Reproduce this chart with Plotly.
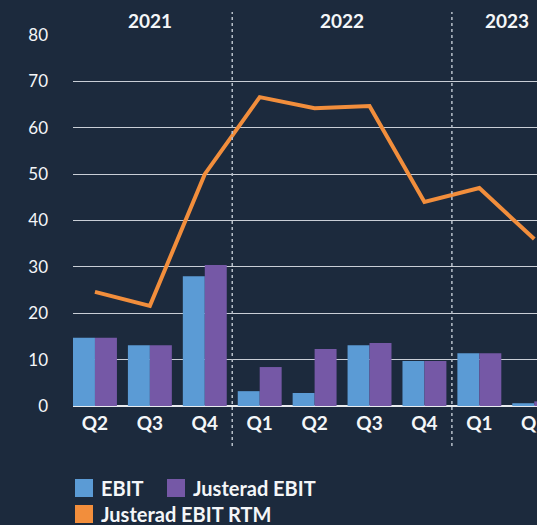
import plotly.graph_objects as go

# ---- data ----
quarters = ["Q2", "Q3", "Q4", "Q1", "Q2", "Q3", "Q4", "Q1", "Q2"]
years = [2021, 2021, 2021, 2022, 2022, 2022, 2022, 2023, 2023]
ebit = [14.7, 13.1, 28.0, 3.2, 2.8, 13.1, 9.7, 11.4, 0.6]
just_ebit = [14.7, 13.1, 30.4, 8.4, 12.3, 13.6, 9.7, 11.4, 1.0]
just_rtm = [24.6, 21.6, 50.0, 66.6, 64.2, 64.7, 44.0, 47.0, 36.0]
y_ticks = [0, 10, 20, 30, 40, 50, 60, 70, 80]
legend_names = ["EBIT", "Justerad EBIT", "Justerad EBIT RTM"]

BG = "#1c2a3d"
C_BLUE = "#5b9bd5"
C_PURPLE = "#7558a6"
C_ORANGE = "#f28e3c"
TXT = "#f4f6f8"
FONT = "Lato"

W, H = 537, 525
ML, MR, MT, MB = 73, 0, 35, 119
PW, PH = W - ML - MR, H - MT - MB

def px_x(px):
    return (px - ML) / PW

def px_y(py):
    return (H - MB - py) / PH

xs = list(range(len(quarters)))

fig = go.Figure()
fig.add_trace(go.Bar(x=xs, y=ebit, name=legend_names[0], marker_color=C_BLUE,
                     marker_line_width=0, showlegend=False))
fig.add_trace(go.Bar(x=xs, y=just_ebit, name=legend_names[1], marker_color=C_PURPLE,
                     marker_line_width=0, showlegend=False))
fig.add_trace(go.Scatter(x=xs, y=just_rtm, name=legend_names[2], mode="lines",
                         line=dict(color=C_ORANGE, width=4), showlegend=False))

# year labels and separators
shapes = []
annotations = []
uniq_years = []
for y in years:
    if y not in uniq_years:
        uniq_years.append(y)
for yr in uniq_years:
    idx = [i for i, v in enumerate(years) if v == yr]
    annotations.append(dict(x=sum(idx) / len(idx), y=px_y(20), xref="x", yref="paper",
                            xanchor="center", yanchor="middle",
                            text=f"<b>{yr}</b>", showarrow=False,
                            font=dict(family=FONT, size=19, color=TXT)))
for i in range(1, len(years)):
    if years[i] != years[i - 1]:
        shapes.append(dict(type="line", xref="x", yref="paper", x0=i - 0.5, x1=i - 0.5,
                           y0=px_y(446), y1=px_y(12),
                           line=dict(color="#b8c0ca", width=1.5, dash="dot")))

# custom legend
leg_items = [(legend_names[0], C_BLUE, 75, 488),
             (legend_names[1], C_PURPLE, 167, 488),
             (legend_names[2], C_ORANGE, 75, 514)]
for name, col, lx, ly in leg_items:
    shapes.append(dict(type="rect", xref="paper", yref="paper",
                       x0=px_x(lx), x1=px_x(lx + 18), y0=px_y(ly + 9), y1=px_y(ly - 9),
                       fillcolor=col, line=dict(width=0)))
    annotations.append(dict(x=px_x(lx + 24), y=px_y(ly), xref="paper", yref="paper",
                            xanchor="left", yanchor="middle", text=f"<b>{name}</b>",
                            showarrow=False, font=dict(family=FONT, size=20, color=TXT)))

fig.update_layout(
    width=W, height=H,
    margin=dict(l=ML, r=MR, t=MT, b=MB, pad=0, autoexpand=False),
    paper_bgcolor=BG, plot_bgcolor=BG,
    barmode="group", bargap=0.2, bargroupgap=0,
    showlegend=False,
    shapes=shapes, annotations=annotations,
    font=dict(family=FONT, color=TXT),
)
fig.update_xaxes(
    range=[-0.4, 8.05], tickmode="array", tickvals=xs,
    ticktext=[f"<b>{q}</b>" for q in quarters],
    tickfont=dict(family=FONT, size=19, color=TXT),
    showgrid=False, zeroline=False, showline=False, ticks="", ticklabelstandoff=4,
    ticklabeloverflow="allow", automargin=False,
)
fig.update_yaxes(
    range=[0, 80], tickmode="array", tickvals=y_ticks,
    tickfont=dict(family=FONT, size=17, color=TXT),
    showgrid=True, gridcolor="#c9ced6", gridwidth=1,
    zeroline=True, zerolinecolor="#e8ebef", zerolinewidth=1.5,
    showline=False, ticks="", ticklabelstandoff=24, automargin=False,
)

fig.write_html(
    "out.html",
    config={"displayModeBar": False},
    post_script="document.body.style.margin='0';document.body.style.padding='0';"
                "document.body.style.overflow='hidden';"
                f"document.body.style.background='{BG}';",
)
